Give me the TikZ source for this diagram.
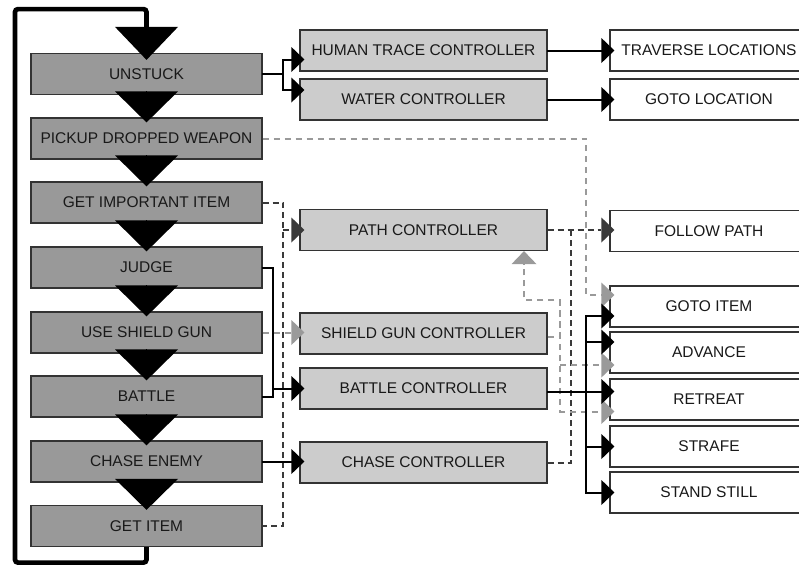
\documentclass[tikz,border=0pt]{standalone}
\usepackage{fontspec}
\setmainfont{Liberation Sans}
\usetikzlibrary{arrows.meta,calc}

\definecolor{stategray}{HTML}{999999}
\definecolor{ctrlgray}{HTML}{CCCCCC}
\definecolor{edgegray}{HTML}{333333}
\definecolor{linkgray}{HTML}{9A9A9A}
\definecolor{darklink}{HTML}{3A3A3A}

\tikzset{
  basebox/.style={draw=edgegray, line width=1.2pt, minimum height=41pt, inner sep=0pt,
    font=\fontsize{15.5}{18}\selectfont, text=black!90},
  statebox/.style={basebox, fill=stategray, minimum width=231pt},
  ctrlbox/.style={basebox, fill=ctrlgray, minimum width=247pt},
  actbox/.style={basebox, fill=white, minimum width=198pt},
  flow/.style={line width=0.5pt, -{Triangle[length=31pt,width=63pt,line width=0pt]}, shorten >=-5pt},
  linkhead/.style={-{Triangle[length=13pt,width=25pt,line width=0pt]}, shorten >=-5pt},
  solidlink/.style={line width=2pt, black, line cap=rect},
  darkdash/.style={line width=2pt, darklink, dash pattern=on 6pt off 4pt},
  greydash/.style={line width=2pt, linkgray, dash pattern=on 6pt off 5pt},
}

\begin{document}
\begin{tikzpicture}[x=1pt,y=-1pt]
  \clip (0,0) rectangle (799,565);

  \node[statebox] (unstuck)   at (146.5,74)    {UNSTUCK};
  \node[statebox] (pickup)    at (146.5,138.5) {PICKUP DROPPED WEAPON};
  \node[statebox] (impitem)   at (146.5,202.5) {GET IMPORTANT ITEM};
  \node[statebox] (judge)     at (146.5,267.5) {JUDGE};
  \node[statebox] (useshield) at (146.5,332.5) {USE SHIELD GUN};
  \node[statebox] (battle)    at (146.5,396.5) {BATTLE};
  \node[statebox] (chase)     at (146.5,461.5) {CHASE ENEMY};
  \node[statebox] (getitem)   at (146.5,526)   {GET ITEM};

  \node[ctrlbox] (humanctl)  at (423.5,50.5)  {HUMAN TRACE CONTROLLER};
  \node[ctrlbox] (waterctl)  at (423.5,99.5)  {WATER CONTROLLER};
  \node[ctrlbox] (pathctl)   at (423.5,230)   {PATH CONTROLLER};
  \node[ctrlbox] (shieldctl) at (423.5,333.5) {SHIELD GUN CONTROLLER};
  \node[ctrlbox] (battlectl) at (423.5,388.5) {BATTLE CONTROLLER};
  \node[ctrlbox] (chasectl)  at (423.5,462.5) {CHASE CONTROLLER};

  \node[actbox] (traverse)   at (709,50.5)  {TRAVERSE LOCATIONS};
  \node[actbox] (gotoloc)    at (709,99.5)  {GOTO LOCATION};
  \node[actbox] (followpath) at (709,231)   {FOLLOW PATH};
  \node[actbox] (gotoitem)   at (709,306.5) {GOTO ITEM};
  \node[actbox] (advance)    at (709,352.5) {ADVANCE};
  \node[actbox] (retreat)    at (709,399.5) {RETREAT};
  \node[actbox] (strafe)     at (709,446.5) {STRAFE};
  \node[actbox] (standstill) at (709,492.5) {STAND STILL};

  \coordinate (judgebus) at (272.5,0);
  \coordinate (leftbus)  at (283,0);
  \coordinate (greybus)  at (560,0);
  \coordinate (greyturn) at (560,300);
  \coordinate (midbus)   at (571,0);
  \coordinate (rightbus) at (586,0);

  \draw[line width=4.7pt, rounded corners=3pt, -{Triangle[length=33pt,width=63pt,line width=0pt]}, shorten >=-7pt]
    (getitem.south) -- ++(0,15.5) -- ++(-131.5,0) -- ++(0,-553.5) -| (unstuck.north);
  \foreach \a/\b in {unstuck/pickup, pickup/impitem, impitem/judge, judge/useshield,
                     useshield/battle, battle/chase, chase/getitem}
    \draw[flow] (\a) -- (\b);

  \draw[solidlink, linkhead] (unstuck.east) -| ($(leftbus |- humanctl.west)+(0,9)$) -- ($(humanctl.west)+(0,9)$);
  \draw[solidlink, linkhead] (unstuck.east) -| ($(leftbus |- waterctl.west)+(0,-9.5)$) -- ($(waterctl.west)+(0,-9.5)$);
  \draw[solidlink, linkhead] (humanctl) -- (traverse);
  \draw[solidlink, linkhead] (waterctl) -- (gotoloc);

  \draw[greydash, linkhead] (pickup.east) -| ($(rightbus |- gotoitem.west)+(0,-11.5)$) -- ($(gotoitem.west)+(0,-11.5)$);

  \draw[darkdash] (impitem.east) -| (leftbus |- getitem.east) -- (getitem.east);
  \draw[darkdash, linkhead] (leftbus |- pathctl.west) -- (pathctl.west);
  \draw[darkdash, linkhead] (pathctl.east) -- (pathctl.east -| followpath.west);
  \draw[darkdash] (chasectl.east) -| (midbus |- pathctl.east);

  \draw[solidlink] (judge.east) -| (judgebus |- battle.east) -- (battle.east);
  \draw[solidlink, linkhead] (judgebus |- battlectl.west) -- (battlectl.west);
  \draw[greydash, linkhead] (useshield.east) -- (useshield.east -| shieldctl.west);
  \draw[solidlink, linkhead] (chase.east) -- (chase.east -| chasectl.west);

  \draw[greydash, linkhead, shorten >=0pt] ($(shieldctl.east)+(0,3.5)$) -| (greyturn) -| ($(pathctl.south)+(100.5,0)$);
  \draw[greydash, linkhead] (greyturn) |- ($(retreat.west)+(0,12)$);
  \draw[greydash, linkhead] ($(greybus |- advance.west)+(0,12.5)$) -- ($(advance.west)+(0,12.5)$);

  \draw[solidlink, linkhead] ($(battlectl.east)+(0,3)$) -- ($(battlectl.east -| retreat.west)+(0,3)$);
  \draw[solidlink, linkhead] ($(rightbus |- gotoitem.west)+(0,9.5)$) -- ($(gotoitem.west)+(0,9.5)$);
  \draw[solidlink, linkhead] ($(rightbus |- gotoitem.west)+(0,9.5)$) |- (standstill.west);
  \draw[solidlink, linkhead] ($(rightbus |- advance.west)+(0,-10.5)$) -- ($(advance.west)+(0,-10.5)$);
  \draw[solidlink, linkhead] (rightbus |- strafe.west) -- (strafe.west);
\end{tikzpicture}
\end{document}
